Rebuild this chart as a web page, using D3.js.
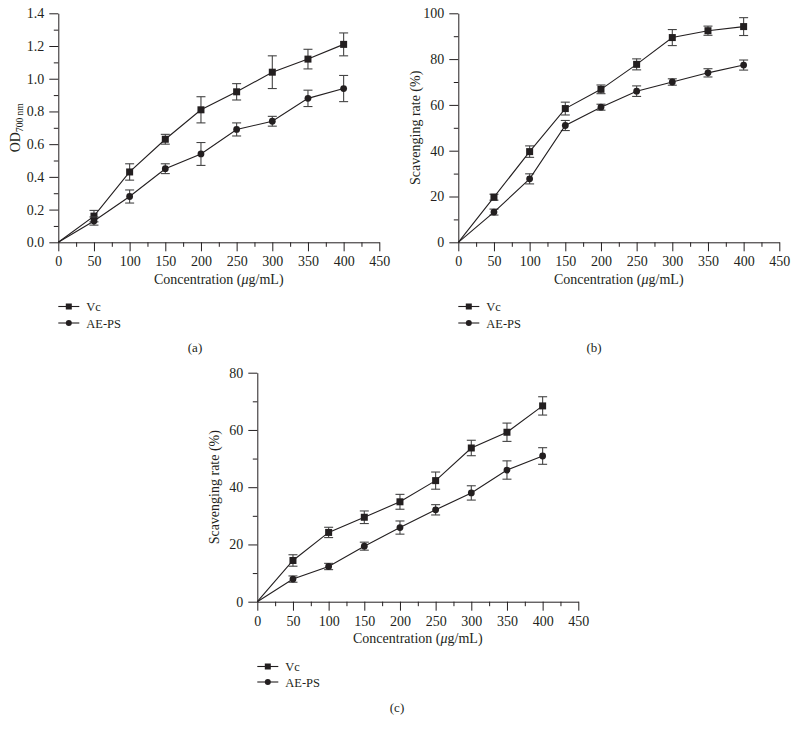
<!DOCTYPE html>
<html>
<head>
<meta charset="utf-8">
<script src="https://cdn.jsdelivr.net/npm/d3@7"></script>
<style>
  body { margin: 0; background: #fff; }
  svg text { font-family: "Liberation Serif", "DejaVu Serif", serif; fill: #231f20; }
</style>
</head>
<body>
<svg id="graph" width="797" height="734"></svg>
<script>
// concentrations (ug/mL)
const conc = [0, 50, 100, 150, 200, 250, 300, 350, 400];
const seriesNames = ["Vc", "AE-PS"];

// panel (a) reducing power OD700
const aVc = [0, 0.16, 0.43, 0.63, 0.81, 0.92, 1.04, 1.12, 1.21];
const aVcErr = [0, 0.035, 0.05, 0.03, 0.08, 0.05, 0.10, 0.06, 0.07];
const aPs = [0, 0.13, 0.28, 0.45, 0.54, 0.69, 0.74, 0.88, 0.94];
const aPsErr = [0, 0.025, 0.04, 0.03, 0.07, 0.04, 0.03, 0.05, 0.08];

// panel (b) scavenging rate (%)
const bVc = [0, 19.7, 39.6, 58.4, 66.8, 77.7, 89.4, 92.4, 94.2];
const bVcErr = [0, 1.3, 2.5, 2.8, 1.9, 2.4, 3.5, 2.0, 3.9];
const bPs = [0, 13.2, 27.7, 51.0, 59.0, 66.0, 70.0, 74.0, 77.4];
const bPsErr = [0, 1.3, 2.2, 2.2, 1.3, 2.3, 1.4, 1.8, 2.2];

// panel (c) scavenging rate (%)
const cVc = [0, 14.4, 24.2, 29.5, 34.9, 42.3, 53.7, 59.2, 68.4];
const cVcErr = [0, 2.0, 1.8, 2.2, 2.6, 3.0, 2.7, 3.2, 3.2];
const cPs = [0, 7.9, 12.3, 19.4, 25.9, 32.1, 38.0, 46.0, 50.9];
const cPsErr = [0, 1.1, 1.1, 1.4, 2.3, 1.8, 2.5, 3.2, 2.9];

const xMajor = [0, 50, 100, 150, 200, 250, 300, 350, 400, 450];
const xMinor = [25, 75, 125, 175, 225, 275, 325, 375, 425];

const svg = d3.select("#graph");
const ink = "#231f20";

function drawPanel(p) {
    const x = d3.scaleLinear().domain([0, 450]).range([p.left, p.left + 321]);
    const y = d3.scaleLinear().domain([0, p.yMax]).range([p.bottom, p.bottom - 229]);
    const g = svg.append("g");

    // x axis: major + minor ticks
    g.append("g")
        .attr("transform", "translate(0," + p.bottom + ")")
        .call(d3.axisBottom(x).tickValues(xMinor).tickSize(4.5).tickFormat(""))
        .call(s => s.select(".domain").remove());
    const xa = g.append("g")
        .attr("transform", "translate(0," + p.bottom + ")")
        .call(d3.axisBottom(x).tickValues(xMajor).tickSizeInner(9).tickSizeOuter(0).tickPadding(5));
    xa.selectAll("text").attr("font-size", 14);

    // y axis
    const yMinor = d3.range(p.yStep / 2, p.yMax, p.yStep);
    g.append("g")
        .attr("transform", "translate(" + p.left + ",0)")
        .call(d3.axisLeft(y).tickValues(yMinor).tickSize(4.5).tickFormat(""))
        .call(s => s.select(".domain").remove());
    const ya = g.append("g")
        .attr("transform", "translate(" + p.left + ",0)")
        .call(d3.axisLeft(y).tickValues(d3.range(0, p.yMax + 1e-9, p.yStep))
            .tickSizeInner(9).tickSizeOuter(0).tickPadding(5).tickFormat(p.fmt));
    ya.selectAll("text").attr("font-size", 14);

    g.selectAll(".domain, .tick line").attr("stroke", ink).attr("stroke-width", 1);

    // axis titles
    g.append("text")
        .attr("x", x(225))
        .attr("y", p.bottom + 41.5)
        .attr("text-anchor", "middle")
        .attr("font-size", 14)
        .html("Concentration (<tspan font-style='italic'>μ</tspan>g/mL)");

    const yt = g.append("text")
        .attr("transform", "translate(" + (p.left - 38) + "," + (p.bottom - 114.5) + ") rotate(-90)")
        .attr("text-anchor", "middle")
        .attr("font-size", 14);
    if (p.od) {
        yt.append("tspan").text("OD");
        yt.append("tspan").attr("font-size", 9.5).attr("dy", 3).text("700 nm");
    } else {
        yt.text("Scavenging rate (%)");
    }

    const series = [
        { vals: p.vc, err: p.vcErr, shape: "square" },
        { vals: p.ps, err: p.psErr, shape: "circle" }
    ];
    const line = d3.line().x((d, i) => x(conc[i])).y(d => y(d));

    series.forEach(s => {
        const sg = g.append("g");
        // error bars
        const eb = sg.selectAll(".err")
            .data(s.vals.map((v, i) => ({ c: conc[i], v: v, e: s.err[i] })).filter(d => d.e > 0))
            .enter().append("g");
        eb.append("line")
            .attr("x1", d => x(d.c)).attr("x2", d => x(d.c))
            .attr("y1", d => y(d.v + d.e)).attr("y2", d => y(d.v - d.e));
        eb.append("line")
            .attr("x1", d => x(d.c) - 4.5).attr("x2", d => x(d.c) + 4.5)
            .attr("y1", d => y(d.v + d.e)).attr("y2", d => y(d.v + d.e));
        eb.append("line")
            .attr("x1", d => x(d.c) - 4.5).attr("x2", d => x(d.c) + 4.5)
            .attr("y1", d => y(d.v - d.e)).attr("y2", d => y(d.v - d.e));
        eb.selectAll("line").attr("stroke", "#444").attr("stroke-width", 1.1);

        sg.append("path")
            .datum(s.vals)
            .attr("d", line)
            .attr("fill", "none")
            .attr("stroke", ink)
            .attr("stroke-width", 1.1);

        const pts = s.vals.slice(1);
        if (s.shape === "square") {
            sg.selectAll(".pt").data(pts).enter().append("rect")
                .attr("x", (d, i) => x(conc[i + 1]) - 3.5)
                .attr("y", d => y(d) - 3.5)
                .attr("width", 7).attr("height", 7)
                .attr("fill", ink);
        } else {
            sg.selectAll(".pt").data(pts).enter().append("circle")
                .attr("cx", (d, i) => x(conc[i + 1]))
                .attr("cy", d => y(d))
                .attr("r", 3.4)
                .attr("fill", ink);
        }
    });

    // legend
    const lg = g.append("g");
    seriesNames.forEach((name, i) => {
        const ly = p.legendY + i * p.legendGap;
        lg.append("line")
            .attr("x1", p.left).attr("x2", p.left + 21)
            .attr("y1", ly).attr("y2", ly)
            .attr("stroke", ink).attr("stroke-width", 1.1);
        if (i === 0) {
            lg.append("rect").attr("x", p.left + 10.5 - 3).attr("y", ly - 3)
                .attr("width", 6).attr("height", 6).attr("fill", ink);
        } else {
            lg.append("circle").attr("cx", p.left + 10.5).attr("cy", ly).attr("r", 3).attr("fill", ink);
        }
        lg.append("text")
            .attr("x", p.left + 28).attr("y", ly + 4.5)
            .attr("font-size", 12.5)
            .text(name);
    });

    // caption
    g.append("text")
        .attr("x", p.capX).attr("y", p.capY)
        .attr("text-anchor", "middle")
        .attr("font-size", 13)
        .text(p.caption);
}

drawPanel({ left: 58.3, bottom: 242.3, yMax: 1.4, yStep: 0.2, fmt: d3.format(".1f"), od: true,
    vc: aVc, vcErr: aVcErr, ps: aPs, psErr: aPsErr,
    legendY: 306.5, legendGap: 16.5, caption: "(a)", capX: 195, capY: 352 });
drawPanel({ left: 458.3, bottom: 242.3, yMax: 100, yStep: 20, fmt: d3.format("d"), od: false,
    vc: bVc, vcErr: bVcErr, ps: bPs, psErr: bPsErr,
    legendY: 306.5, legendGap: 16.5, caption: "(b)", capX: 594, capY: 352 });
drawPanel({ left: 257.3, bottom: 601.7, yMax: 80, yStep: 20, fmt: d3.format("d"), od: false,
    vc: cVc, vcErr: cVcErr, ps: cPs, psErr: cPsErr,
    legendY: 666.5, legendGap: 15.5, caption: "(c)", capX: 397, capY: 712 });
</script>
</body>
</html>
